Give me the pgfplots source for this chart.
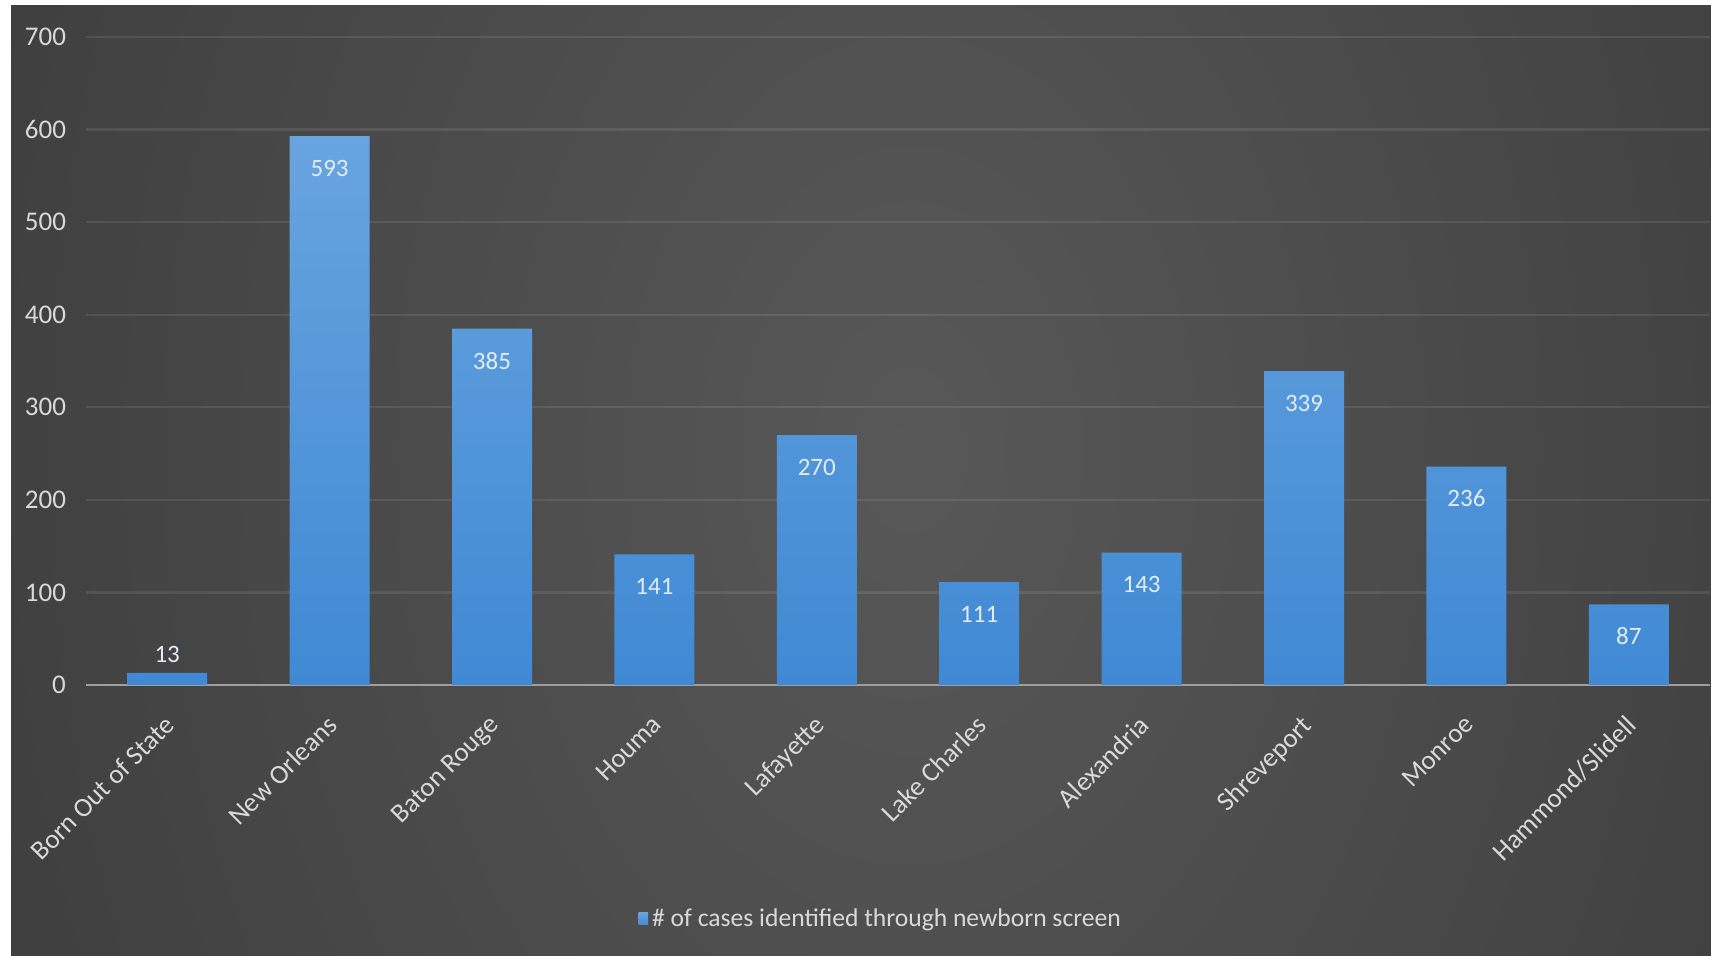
\documentclass[border=0pt]{standalone}
\usepackage{pgfplots}
\pgfplotsset{compat=1.18}
\usepackage{fontspec}
\setmainfont{Carlito}
\definecolor{bgc}{HTML}{585858}
\definecolor{bge}{HTML}{292929}
\definecolor{bartop}{HTML}{68A4DF}
\definecolor{barbot}{HTML}{4089D4}
\definecolor{txt}{HTML}{D9D9D9}
\definecolor{lbl}{HTML}{E2ECF7}
\pgfdeclareradialshading{bgshade}{\pgfpoint{0bp}{0bp}}{color(0bp)=(bgc); color(25bp)=(bge); color(50bp)=(bge)}
\begin{document}
\begin{tikzpicture}
\useasboundingbox (0,0) rectangle (855.5pt,478pt);
\fill[white] (0,0) rectangle (855.5pt,478pt);
\fill[bge] (5.5pt,0) rectangle (855.5pt,475pt);
\begin{scope}
\clip (5.5pt,0) rectangle (855.5pt,475pt);
\shade[shading=bgshade] (455pt,253pt) ellipse (900pt and 1300pt);
\end{scope}
\begin{axis}[
  at={(43pt,135.5pt)}, anchor=south west,
  scale only axis, width=812pt, height=324pt,
  xmin=-0.5, xmax=9.5, ymin=0, ymax=700,
  ytick={0,100,...,700},
  xtick={0,...,9},
  xticklabels={Born Out of State,New Orleans,Baton Rouge,Houma,Lafayette,Lake Charles,Alexandria,Shreveport,Monroe,Hammond/Slidell},
  axis lines*=left,
  y axis line style={draw=none},
  x axis line style={draw=white!62!black, line width=1.2pt},
  tick style={draw=none},
  ymajorgrids,
  grid style={draw=white, opacity=0.09, line width=1.2pt},
  /pgf/number format/assume math mode=true,
  yticklabel style={font=\fontsize{13.5}{15}\selectfont, text=txt, xshift=-6.5pt},
  xticklabel style={font=\fontsize{13.5}{15}\selectfont, text=txt, xshift=-2pt, yshift=-9.5pt, rotate=45, anchor=north east},
  legend style={at={(0.490,-0.361)}, anchor=center, draw=none, fill=none,
    text=txt, font=\fontsize{12.8}{14}\selectfont, inner sep=0pt},
  legend image code/.code={\fill[bartop!80!barbot] (0pt,-3pt) rectangle (4.8pt,3pt);},
  legend cell align=left,
]
\addplot[ybar, bar width=40pt, draw=none, top color=bartop, bottom color=barbot,
  nodes near coords,
  every node near coord/.append style={font=\fontsize{12.5}{14}\selectfont, text=lbl, anchor=center, yshift=-16pt},
  coordinate style/.condition={y<50}{yshift=25pt, text=txt},
] coordinates {
(0,13) (1,593) (2,385) (3,141) (4,270) (5,111) (6,143) (7,339) (8,236) (9,87)
};
\addlegendentry{\# of cases identified through newborn screen}
\end{axis}
\end{tikzpicture}
\end{document}
